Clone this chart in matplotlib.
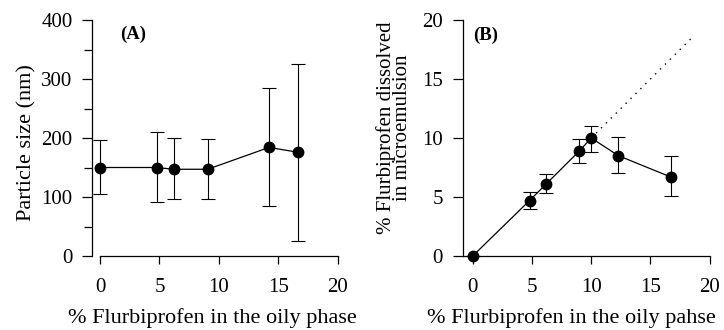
import matplotlib
matplotlib.use("Agg")
import matplotlib.pyplot as plt
from matplotlib.ticker import MultipleLocator

plt.rcParams['font.family'] = ['Liberation Serif', 'DejaVu Serif']
plt.rcParams['mathtext.fontset'] = 'stix'

# Panel A data
xa = [0, 4.75, 6.2, 9.05, 14.2, 16.6]
ya = [150, 150, 147, 147, 184, 176]
ya_lo = [105, 92, 96, 97, 85, 25]
ya_hi = [196, 210, 200, 199, 285, 326]

# Panel B data
xb = [0, 4.8, 6.2, 9.0, 10.0, 12.3, 16.7]
yb = [0, 4.7, 6.1, 8.9, 10.0, 8.5, 6.7]
yb_lo = [0, 3.95, 5.3, 7.85, 8.8, 7.0, 5.05]
yb_hi = [0, 5.4, 6.95, 9.95, 11.05, 10.05, 8.5]
xdot = [10.0, 18.4]
ydot = [10.0, 18.4]

W, H = 724, 330
fig = plt.figure(figsize=(W / 100, H / 100), dpi=100)

def fr(x0, x1, y0, y1):
    return [x0 / W, 1 - y1 / H, (x1 - x0) / W, (y1 - y0) / H]

axA = fig.add_axes(fr(92, 338, 20, 256))
axB = fig.add_axes(fr(462.5, 709.7, 20, 256))

fs = 15
lfs = 16

def style(ax):
    for s in ['top', 'right']:
        ax.spines[s].set_visible(False)
    for s in ['left', 'bottom']:
        ax.spines[s].set_linewidth(0.9)
    ax.tick_params(axis='both', which='major', direction='out', length=7, width=0.9,
                   labelsize=fs, pad=7)
    ax.tick_params(axis='x', which='major', length=6, pad=10)
    ax.tick_params(axis='y', which='minor', direction='out', length=6, width=0.9)
    ax.set_xticks([0, 5, 10, 15, 20])

def draw(ax, x, y, lo, hi):
    err = [[yi - l for yi, l in zip(y, lo)], [h - yi for yi, h in zip(y, hi)]]
    ax.errorbar(x, y, yerr=err, fmt='none', ecolor='black', elinewidth=0.8,
                capsize=5, capthick=0.8, clip_on=False)
    ax.plot(x, y, '-', color='black', lw=0.9, marker='o', markersize=7.5,
            markerfacecolor='black', markeredgecolor='black', clip_on=False, zorder=3)

# Panel A
style(axA)
draw(axA, xa, ya, ya_lo, ya_hi)
axA.set_xlim(-0.67, 20)
axA.set_ylim(0, 400)
axA.set_yticks([0, 100, 200, 300, 400])
axA.yaxis.set_minor_locator(MultipleLocator(50))
axA.spines['bottom'].set_bounds(0, 20)
axA.set_ylabel('Particle size (nm)', fontsize=lfs)
axA.yaxis.set_label_coords(-(92 - 27) / 246, (256 - 143) / 236)
axA.set_xlabel('% Flurbiprofen in the oily phase', fontsize=lfs)
axA.xaxis.set_label_coords((212 - 92) / 246, -(318 - 256) / 236)
axA.xaxis.label.set_va('center')
axA.yaxis.label.set_va('center')
axA.text(1.7, 375, '(A)', fontsize=13.5, fontweight='bold', va='center', ha='left')

# Panel B
style(axB)
draw(axB, xb, yb, yb_lo, yb_hi)
axB.plot(xdot, ydot, color='black', lw=1.0, linestyle=(0, (1, 4)))
axB.set_xlim(-0.86, 20)
axB.set_ylim(0, 20)
axB.set_yticks([0, 5, 10, 15, 20])
axB.set_ylabel('% Flurbiprofen dissolved\nin microemulsion', fontsize=15,
               linespacing=0.85)
axB.yaxis.set_label_coords(-(462.5 - 394) / 247.2, (256 - 128) / 236)
axB.yaxis.label.set_va('center')
axB.set_xlabel('% Flurbiprofen in the oily pahse', fontsize=lfs)
axB.xaxis.set_label_coords((571 - 462.5) / 247.2, -(318 - 256) / 236)
axB.xaxis.label.set_va('center')
axB.text(0.0, 18.7, '(B)', fontsize=13.5, fontweight='bold', va='center', ha='left')

fig.savefig('out.png', dpi=100)
